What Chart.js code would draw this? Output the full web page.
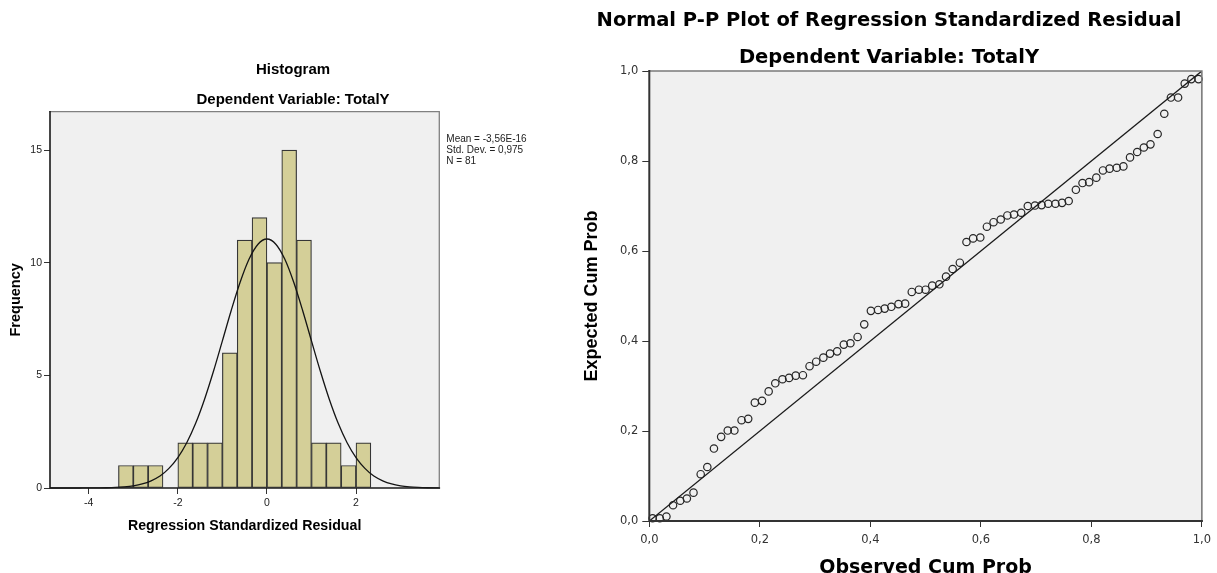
<!DOCTYPE html>
<html><head><meta charset="utf-8">
<script src="https://cdn.jsdelivr.net/npm/chart.js@4.4.1/dist/chart.umd.min.js"></script>
<style>
html,body{margin:0;padding:0;background:#fff;overflow:hidden;width:1217px;height:573px;}
#hist{position:absolute;left:0;top:0;}
#pp{position:absolute;left:561px;top:0;}
</style></head><body>
<canvas id="hist" width="586" height="573"></canvas>
<canvas id="pp" width="656" height="585"></canvas>
<script>
// ---------- Histogram data ----------
const histBinCenters = [-3.1667,-2.8333,-2.5,-2.1667,-1.8333,-1.5,-1.1667,-0.8333,-0.5,-0.1667,0.1667,0.5,0.8333,1.1667,1.5,1.8333,2.1667];
const histCounts = [1,1,1,0,2,2,2,6,11,12,10,15,11,2,2,1,2];
const curveX = [-4.87,-4.6,-4.4,-4.2,-4.0,-3.8,-3.6,-3.4,-3.2,-3.0,-2.8,-2.6,-2.4,-2.2,-2.0,-1.8,-1.6,-1.4,-1.2,-1.0,-0.8,-0.6,-0.4,-0.2,0,0.2,0.4,0.6,0.8,1.0,1.2,1.4,1.6,1.8,2.0,2.2,2.4,2.6,2.8,3.0,3.2,3.4,3.6,3.87];
const curveY = [0,0,0,0.001,0.002,0.006,0.012,0.025,0.05,0.097,0.18,0.32,0.53,0.87,1.35,2.01,2.87,3.94,5.18,6.53,7.89,9.14,10.16,10.82,11.05,10.82,10.16,9.14,7.89,6.53,5.18,3.94,2.87,2.01,1.35,0.87,0.53,0.32,0.18,0.097,0.05,0.025,0.012,0.004];
const histXTicks = [-4,-2,0,2];
const histXTickLabels = ['-4','-2','0','2'];
const histYTicks = [0,5,10,15];
const histYTickLabels = ['0','5','10','15'];
const histStats = ['Mean = -3,56E-16','Std. Dev. = 0,975','N = 81'];

// ---------- P-P plot data ----------
const ppObserved = [0.006,0.019,0.031,0.043,0.056,0.068,0.080,0.093,0.105,0.117,
0.130,0.142,0.154,0.167,0.179,0.191,0.204,0.216,0.228,0.241,
0.253,0.265,0.278,0.290,0.302,0.315,0.327,0.340,0.352,0.364,
0.377,0.389,0.401,0.414,0.426,0.438,0.451,0.463,0.475,0.488,
0.500,0.512,0.525,0.537,0.549,0.562,0.574,0.586,0.599,0.611,
0.623,0.636,0.648,0.660,0.673,0.685,0.698,0.710,0.722,0.735,
0.747,0.759,0.772,0.784,0.796,0.809,0.821,0.833,0.846,0.858,
0.870,0.883,0.895,0.907,0.920,0.932,0.944,0.957,0.969,0.981,0.994];
const ppExpected = [0.006,0.006,0.010,0.035,0.045,0.050,0.063,0.104,0.120,0.161,
0.187,0.201,0.201,0.224,0.227,0.263,0.267,0.288,0.306,0.315,
0.318,0.323,0.324,0.344,0.354,0.363,0.372,0.377,0.392,0.395,
0.409,0.437,0.467,0.469,0.472,0.476,0.482,0.483,0.509,0.514,
0.514,0.523,0.526,0.543,0.560,0.574,0.620,0.628,0.630,0.654,
0.664,0.670,0.679,0.681,0.685,0.700,0.701,0.702,0.705,0.705,
0.707,0.711,0.736,0.751,0.753,0.763,0.779,0.783,0.785,0.788,
0.808,0.820,0.830,0.837,0.860,0.905,0.941,0.941,0.972,0.982,0.982];
const refLineX = [0,1];
const refLineY = [0,1];
const ppTicks = [0,0.2,0.4,0.6,0.8,1.0];
const ppTickLabels = ['0,0','0,2','0,4','0,6','0,8','1,0'];

// ---------- helpers ----------
function framePlugin(id, opts){
  return {
    id,
    beforeDraw(chart){
      const {ctx, chartArea:a} = chart;
      ctx.save(); ctx.fillStyle = opts.bg; ctx.fillRect(a.left, a.top, a.right-a.left, a.bottom-a.top); ctx.restore();
    },
    afterDatasetsDraw(chart){
      const {ctx, chartArea:a} = chart;
      ctx.save();
      ctx.lineCap = 'square';
      ctx.strokeStyle = opts.light; ctx.lineWidth = opts.lightW;
      ctx.beginPath(); ctx.moveTo(a.left, a.top); ctx.lineTo(a.right, a.top); ctx.lineTo(a.right, a.bottom); ctx.stroke();
      ctx.strokeStyle = opts.dark; ctx.lineWidth = opts.darkW;
      ctx.beginPath(); ctx.moveTo(a.left, a.top); ctx.lineTo(a.left, a.bottom); ctx.lineTo(a.right, a.bottom); ctx.stroke();
      ctx.restore();
    }
  };
}
const statsPlugin = {
  id: 'stats',
  afterDraw(chart){
    const ctx = chart.ctx;
    ctx.save();
    ctx.font = '10px "Liberation Sans", Arial, sans-serif';
    ctx.fillStyle = '#222'; ctx.textAlign = 'left'; ctx.textBaseline = 'middle';
    histStats.forEach((t,i)=> ctx.fillText(t, chart.chartArea.right + 7, chart.chartArea.top + 28 + i*10.7));
    ctx.restore();
  }
};
const spacer = w => ({ display:true, position:'right', afterFit(s){ s.width = w; }, ticks:{display:false}, grid:{display:false}, border:{display:false} });

// ---------- Histogram ----------
new Chart(document.getElementById('hist'), {
  type: 'bar',
  data: {
    datasets: [
      { type:'line', data: curveX.map((x,i)=>({x, y:curveY[i]})), borderColor:'#141414', borderWidth:1.3,
        pointRadius:0, fill:false, cubicInterpolationMode:'monotone', order:0, clip:false },
      { type:'bar', data: histBinCenters.map((x,i)=>({x, y:histCounts[i]})), backgroundColor:'#d4cf98',
        borderColor:'#363636', borderWidth:1.2, borderSkipped:false, barPercentage:1, categoryPercentage:1, order:1 }
    ]
  },
  options: {
    responsive:false, animation:false, devicePixelRatio:1, events:[],
    layout:{ padding:0 },
    plugins:{
      legend:{display:false}, tooltip:{enabled:false},
      title:{ display:true, text:'Histogram', color:'#000', font:{family:'"Liberation Sans", Arial', size:15, weight:'bold', lineHeight:1.2}, padding:{top:61, bottom:0} },
      subtitle:{ display:true, text:'Dependent Variable: TotalY', color:'#000', font:{family:'"Liberation Sans", Arial', size:15, weight:'bold', lineHeight:1.2}, padding:{top:11.5, bottom:3.2} }
    },
    scales:{
      x:{ type:'linear', min:-4.87, max:3.87, offset:false,
        afterFit(s){ s.height = 85; },
        afterBuildTicks(s){ s.ticks = histXTicks.map(v=>({value:v})); },
        grid:{ offset:false, drawOnChartArea:false, drawTicks:true, tickLength:6, color:'#333' },
        border:{ display:false },
        ticks:{ callback:(v,i)=>histXTickLabels[i], autoSkip:false, maxRotation:0, padding:3, color:'#222', font:{family:'"Liberation Sans", Arial', size:10.5} },
        title:{ display:true, text:'Regression Standardized Residual', color:'#000', font:{family:'"Liberation Sans", Arial', size:14.2, weight:'bold', lineHeight:1.2}, padding:{top:0, bottom:38.4} }
      },
      y:{ type:'linear', min:0, max:16.7,
        afterFit(s){ s.width = 50; },
        afterBuildTicks(s){ s.ticks = histYTicks.map(v=>({value:v})); },
        grid:{ drawOnChartArea:false, drawTicks:true, tickLength:6, color:'#333' },
        border:{ display:false },
        ticks:{ callback:(v,i)=>histYTickLabels[i], autoSkip:false, padding:2, color:'#222', font:{family:'"Liberation Sans", Arial', size:10.5} },
        title:{ display:true, text:'Frequency', color:'#000', font:{family:'"Liberation Sans", Arial', size:14.5, weight:'bold', lineHeight:1.2}, padding:{top:7.5, bottom:0} }
      },
      yRight: spacer(146.7)
    }
  },
  plugins:[ framePlugin('histFrame', {bg:'#f0f0f0', light:'#808080', lightW:1.3, dark:'#1a1a1a', darkW:1.6}), statsPlugin ]
});

// ---------- P-P plot ----------
new Chart(document.getElementById('pp'), {
  type: 'scatter',
  data: {
    datasets: [
      { type:'scatter', data: ppObserved.map((x,i)=>({x, y:ppExpected[i]})), pointRadius:3.7, pointBorderWidth:1.2,
        pointBorderColor:'#262626', pointBackgroundColor:'rgba(0,0,0,0)', clip:false, order:1 },
      { type:'line', data: refLineX.map((x,i)=>({x, y:refLineY[i]})), borderColor:'#1a1a1a', borderWidth:1.3,
        pointRadius:0, fill:false, order:0 }
    ]
  },
  options: {
    responsive:false, animation:false, devicePixelRatio:1, events:[],
    layout:{ padding:0 },
    plugins:{
      legend:{display:false}, tooltip:{enabled:false},
      title:{ display:true, text:'Normal P-P Plot of Regression Standardized Residual', color:'#000', font:{family:'"DejaVu Sans", sans-serif', size:19.5, weight:'bold', lineHeight:1.2}, padding:{top:9.2, bottom:0} },
      subtitle:{ display:true, text:'Dependent Variable: TotalY', color:'#000', font:{family:'"DejaVu Sans", sans-serif', size:19.5, weight:'bold', lineHeight:1.2}, padding:{top:13.2, bottom:1.8} }
    },
    scales:{
      x:{ type:'linear', min:0, max:1,
        afterFit(s){ s.height = 64; },
        afterBuildTicks(s){ s.ticks = ppTicks.map(v=>({value:v})); },
        grid:{ drawOnChartArea:false, drawTicks:true, tickLength:6, color:'#333' },
        border:{ display:false },
        ticks:{ callback:(v,i)=>ppTickLabels[i], autoSkip:false, maxRotation:0, padding:6, color:'#333', font:{family:'"DejaVu Sans", sans-serif', size:11.5} },
        title:{ display:true, text:'Observed Cum Prob', color:'#000', font:{family:'"DejaVu Sans", sans-serif', size:19, weight:'bold', lineHeight:1.2}, padding:{top:0, bottom:5.7} }
      },
      y:{ type:'linear', min:0, max:1,
        afterFit(s){ s.width = 88.3; },
        afterBuildTicks(s){ s.ticks = ppTicks.map(v=>({value:v})); },
        grid:{ drawOnChartArea:false, drawTicks:true, tickLength:7, color:'#333' },
        border:{ display:false },
        ticks:{ callback:(v,i)=>ppTickLabels[i], autoSkip:false, padding:4, color:'#333', font:{family:'"DejaVu Sans", sans-serif', size:11.5} },
        title:{ display:true, text:'Expected Cum Prob', color:'#000', font:{family:'"Liberation Sans", Arial', size:18, weight:'bold', lineHeight:1.2}, padding:{top:20.2, bottom:0} }
      },
      yRight: spacer(12)
    }
  },
  plugins:[ framePlugin('ppFrame', {bg:'#f0f0f0', light:'#7a7a7a', lightW:1.6, dark:'#333', darkW:2}) ]
});
</script>
</body></html>
